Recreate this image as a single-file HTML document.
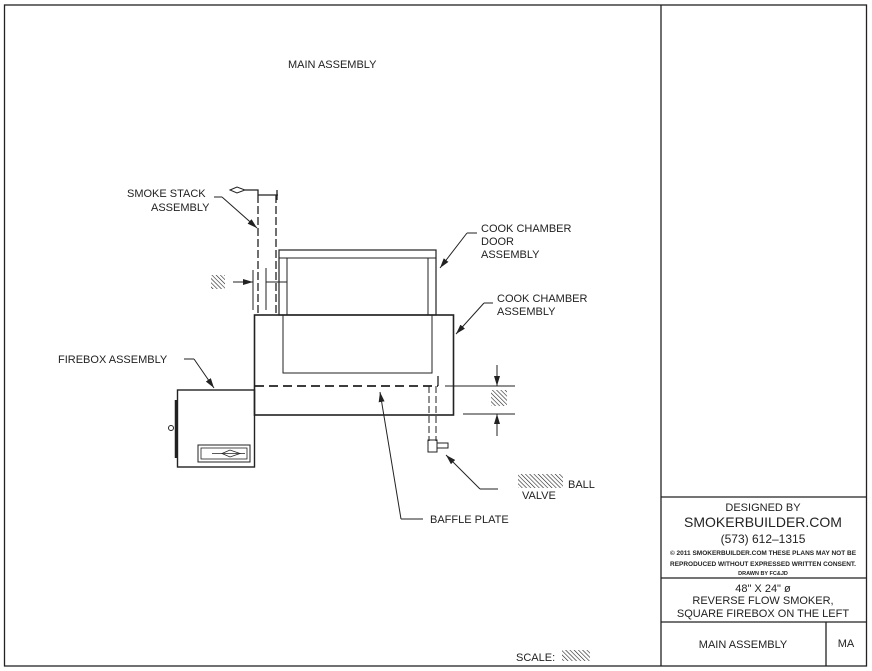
<!DOCTYPE html>
<html><head><style>
html,body{margin:0;padding:0;background:#fff}
svg{display:block}
text{font-family:"Liberation Sans",sans-serif;fill:#222}
</style></head><body>
<svg width="872" height="671" viewBox="0 0 872 671" xmlns="http://www.w3.org/2000/svg">
<defs>
<pattern id="h" width="3" height="3" patternUnits="userSpaceOnUse" patternTransform="rotate(-45)">
<line x1="0" y1="0" x2="0" y2="3" stroke="#222" stroke-width="1.2"/></pattern>
<marker id="a" markerWidth="10" markerHeight="6" refX="10" refY="3" orient="auto" markerUnits="userSpaceOnUse"><path d="M0,0 L10,3 L0,6 z" fill="#222"/></marker>
</defs>
<g fill="none" stroke="#222" stroke-width="1.3">
<rect x="4.5" y="5" width="862" height="661"/>
<line x1="661" y1="5" x2="661" y2="666"/>
<line x1="661" y1="497" x2="866" y2="497"/>
<line x1="661" y1="578" x2="866" y2="578"/>
<line x1="661" y1="622" x2="866" y2="622"/>
<line x1="826" y1="622" x2="826" y2="666"/>

<line x1="258" y1="195" x2="258" y2="315" stroke-dasharray="8,3"/>
<line x1="276" y1="195" x2="276" y2="315" stroke-dasharray="8,3"/>
<line x1="258" y1="195" x2="278" y2="195"/>
<line x1="277" y1="190" x2="277" y2="200"/>
<path d="M245,190 L258,190 L258,195"/>
<path d="M230,190 L237,187 L245,190 L237,193 Z" stroke-width="1"/>
<line x1="253" y1="270" x2="253" y2="310" stroke-width="1"/>
<line x1="266" y1="268" x2="266" y2="310" stroke-width="1"/>
<line x1="233" y1="282" x2="253" y2="282" stroke-width="1" marker-end="url(#a)"/>
<line x1="266" y1="282" x2="287" y2="282" stroke-width="1"/>

<rect x="279" y="250" width="157" height="65" stroke-width="1.2"/>
<line x1="279" y1="258" x2="436" y2="258" stroke-width="1"/>
<line x1="287" y1="258" x2="287" y2="315" stroke-width="1"/>
<line x1="428" y1="258" x2="428" y2="315" stroke-width="1"/>

<rect x="254.5" y="315" width="199" height="100" stroke-width="1.6"/>
<path d="M283,315 L283,373 L432,373 L432,315" stroke-width="1"/>
<line x1="255" y1="386" x2="438" y2="386" stroke-width="1.8" stroke-dasharray="9,5"/>
<line x1="438" y1="376" x2="438" y2="386"/>
<line x1="445" y1="386" x2="515" y2="386" stroke-width="1"/>
<line x1="463" y1="414" x2="515" y2="414" stroke-width="1"/>
<line x1="497" y1="365" x2="497" y2="386" stroke-width="1" marker-end="url(#a)"/>
<line x1="497" y1="436" x2="497" y2="414" stroke-width="1" marker-end="url(#a)"/>
<rect x="491" y="390" width="16" height="16" fill="url(#h)" stroke="none"/>

<line x1="429" y1="386" x2="429" y2="441" stroke-width="1" stroke-dasharray="7,3"/>
<line x1="436" y1="386" x2="436" y2="441" stroke-width="1" stroke-dasharray="7,3"/>
<rect x="428" y="440" width="9" height="12" stroke-width="1"/>
<rect x="437" y="443" width="11" height="5" stroke-width="1"/>
<line x1="498" y1="489" x2="480" y2="489" stroke-width="1"/>
<line x1="480" y1="489" x2="446" y2="455" stroke-width="1" marker-end="url(#a)"/>

<rect x="177.5" y="390" width="77" height="77" stroke-width="1.4"/>
<line x1="176" y1="400" x2="176" y2="458" stroke-width="2.5"/>
<circle cx="171" cy="428" r="2.5" stroke-width="1"/>
<rect x="198" y="445" width="52" height="17" stroke-width="1"/>
<rect x="201" y="448" width="46" height="11" stroke-width="0.8"/>
<path d="M222,453.5 L230,450 L240,453.5 L230,457 Z" stroke-width="0.8"/>
<line x1="212" y1="453.5" x2="245" y2="453.5" stroke-width="0.8"/>

<path d="M214,197 L222,197" stroke-width="1"/>
<line x1="222" y1="197" x2="257" y2="228" stroke-width="1" marker-end="url(#a)"/>
<path d="M184,359 L194,359" stroke-width="1"/>
<line x1="194" y1="359" x2="214" y2="388" stroke-width="1" marker-end="url(#a)"/>
<path d="M477,233 L467,233" stroke-width="1"/>
<line x1="467" y1="233" x2="440" y2="268" stroke-width="1" marker-end="url(#a)"/>
<path d="M493,303 L484,303" stroke-width="1"/>
<line x1="484" y1="303" x2="456" y2="334" stroke-width="1" marker-end="url(#a)"/>
<path d="M423,519 L401,519" stroke-width="1"/>
<line x1="401" y1="519" x2="380" y2="392" stroke-width="1" marker-end="url(#a)"/>
</g>
<rect x="211" y="275" width="14" height="14" fill="url(#h)"/>
<rect x="518" y="474" width="45" height="14" fill="url(#h)"/>
<rect x="562" y="650" width="28" height="11" fill="url(#h)"/>

<g font-size="11">
<text x="288" y="68">MAIN ASSEMBLY</text>
<text x="127" y="197">SMOKE STACK</text>
<text x="151" y="211">ASSEMBLY</text>
<text x="481" y="232">COOK CHAMBER</text>
<text x="481" y="245">DOOR</text>
<text x="481" y="258">ASSEMBLY</text>
<text x="497" y="302">COOK CHAMBER</text>
<text x="497" y="315">ASSEMBLY</text>
<text x="58" y="363">FIREBOX ASSEMBLY</text>
<text x="568" y="488">BALL</text>
<text x="522" y="499">VALVE</text>
<text x="430" y="523">BAFFLE PLATE</text>
<text x="516" y="661">SCALE:</text>
</g>
<g text-anchor="middle">
<text x="763" y="511" font-size="11">DESIGNED BY</text>
<text x="763" y="527" font-size="14">SMOKERBUILDER.COM</text>
<text x="763" y="543" font-size="12">(573) 612–1315</text>
<text x="763" y="555" font-size="6.5" font-weight="bold">© 2011 SMOKERBUILDER.COM THESE PLANS MAY NOT BE</text>
<text x="763" y="566" font-size="6.5" font-weight="bold">REPRODUCED WITHOUT EXPRESSED WRITTEN CONSENT.</text>
<text x="763" y="575" font-size="5.5" font-weight="bold">DRAWN BY FC&amp;JD</text>
<text x="763" y="592" font-size="11">48" X 24" ø</text>
<text x="763" y="604" font-size="11">REVERSE FLOW SMOKER,</text>
<text x="763" y="617" font-size="11">SQUARE FIREBOX ON THE LEFT</text>
<text x="743" y="648" font-size="11">MAIN ASSEMBLY</text>
<text x="846" y="647" font-size="11">MA</text>
</g>
</svg>
</body></html>
